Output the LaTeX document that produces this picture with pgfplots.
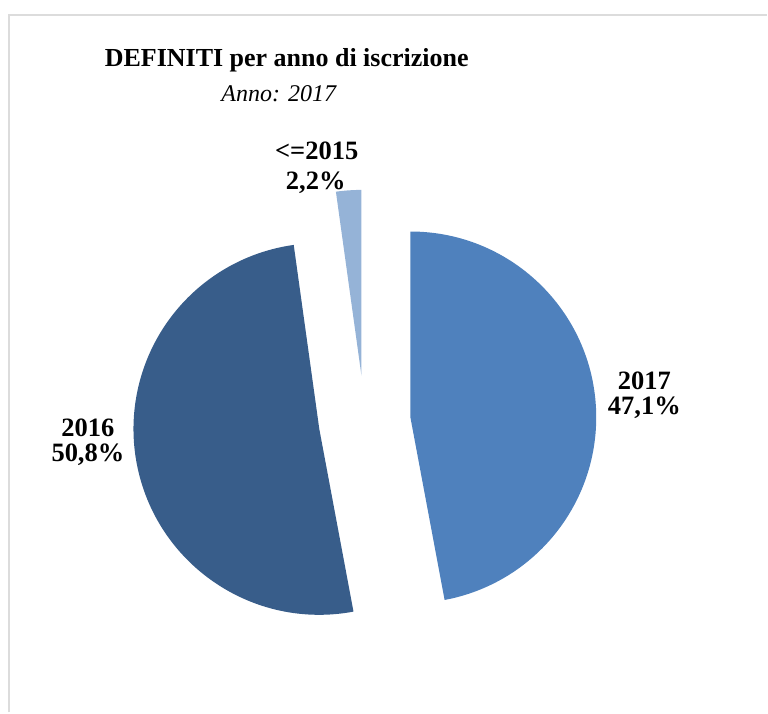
\documentclass[border=0pt]{standalone}
\usepackage{pgfplots}
\pgfplotsset{compat=1.18}
\usepackage{fontspec}
\setmainfont{Liberation Serif}

\definecolor{c2017}{HTML}{4F81BD}
\definecolor{c2016}{HTML}{385D8A}
\definecolor{c2015}{HTML}{95B3D7}
\definecolor{cframe}{HTML}{DCDCDC}

% quote (%) per anno di iscrizione, in senso orario dalle 12
\def\pA{47.1} % 2017
\def\pB{50.8} % 2016
\def\pC{2.2}  % <=2015
\pgfmathsetmacro\tot{\pA+\pB+\pC}
\pgfmathsetmacro\sA{90}
\pgfmathsetmacro\eA{\sA-3.6*(\pA/\tot)*100}
\pgfmathsetmacro\eB{\eA-3.6*(\pB/\tot)*100}
\pgfmathsetmacro\eC{\eB-3.6*(\pC/\tot)*100}
% centro, raggio, esplosione (in px = pt)
\def\cx{365}\def\cy{291}\def\rr{186}\def\ex{46}
\pgfmathsetmacro\mA{(\sA+\eA)/2}
\pgfmathsetmacro\mB{(\eA+\eB)/2}
\pgfmathsetmacro\mC{(\eB+\eC)/2}
\pgfmathsetmacro\xA{\cx+\ex*cos(\mA)}\pgfmathsetmacro\yA{\cy+\ex*sin(\mA)}
\pgfmathsetmacro\xB{\cx+\ex*cos(\mB)}\pgfmathsetmacro\yB{\cy+\ex*sin(\mB)}
\pgfmathsetmacro\xC{\cx+\ex*cos(\mC)}\pgfmathsetmacro\yC{\cy+\ex*sin(\mC)}

\begin{document}
\begin{tikzpicture}
\begin{axis}[
    x=1pt, y=1pt,
    xmin=0, xmax=768, ymin=0, ymax=713,
    hide axis, clip=false,
    ]
    \path (axis cs:0,0) rectangle (axis cs:768,713);
    % cornice
    \draw[cframe, line width=1.5pt] (axis cs:9,0) -- (axis cs:9,698) -- (axis cs:768,698);

    % spicchi
    \fill[c2017] (axis cs:\xA,\yA) -- ++(\sA:\rr pt) arc[start angle=\sA, end angle=\eA, radius=\rr pt] -- cycle;
    \fill[c2016] (axis cs:\xB,\yB) -- ++(\eA:\rr pt) arc[start angle=\eA, end angle=\eB, radius=\rr pt] -- cycle;
    \fill[c2015] (axis cs:\xC,\yC) -- ++(\eB:\rr pt) arc[start angle=\eB, end angle=\eC, radius=\rr pt] -- cycle;

    % titolo
    \node[anchor=base, font=\fontsize{26}{31}\selectfont\bfseries] at (axis cs:287,646) {DEFINITI per anno di iscrizione};
    \node[anchor=base, font=\fontsize{24}{29}\selectfont\itshape] at (axis cs:279,611) {Anno: 2017};

    % etichette
    \tikzset{lab/.style={anchor=base, font=\fontsize{26.5}{31}\selectfont\bfseries}}
    \node[lab] at (axis cs:645,323) {2017};
    \node[lab] at (axis cs:645,298) {47,1\%};
    \node[lab] at (axis cs:88,276) {2016};
    \node[lab] at (axis cs:88,251) {50,8\%};
    \node[lab] at (axis cs:317,553) {<=2015};
    \node[lab] at (axis cs:316,523) {2,2\%};
\end{axis}
\end{tikzpicture}
\end{document}
